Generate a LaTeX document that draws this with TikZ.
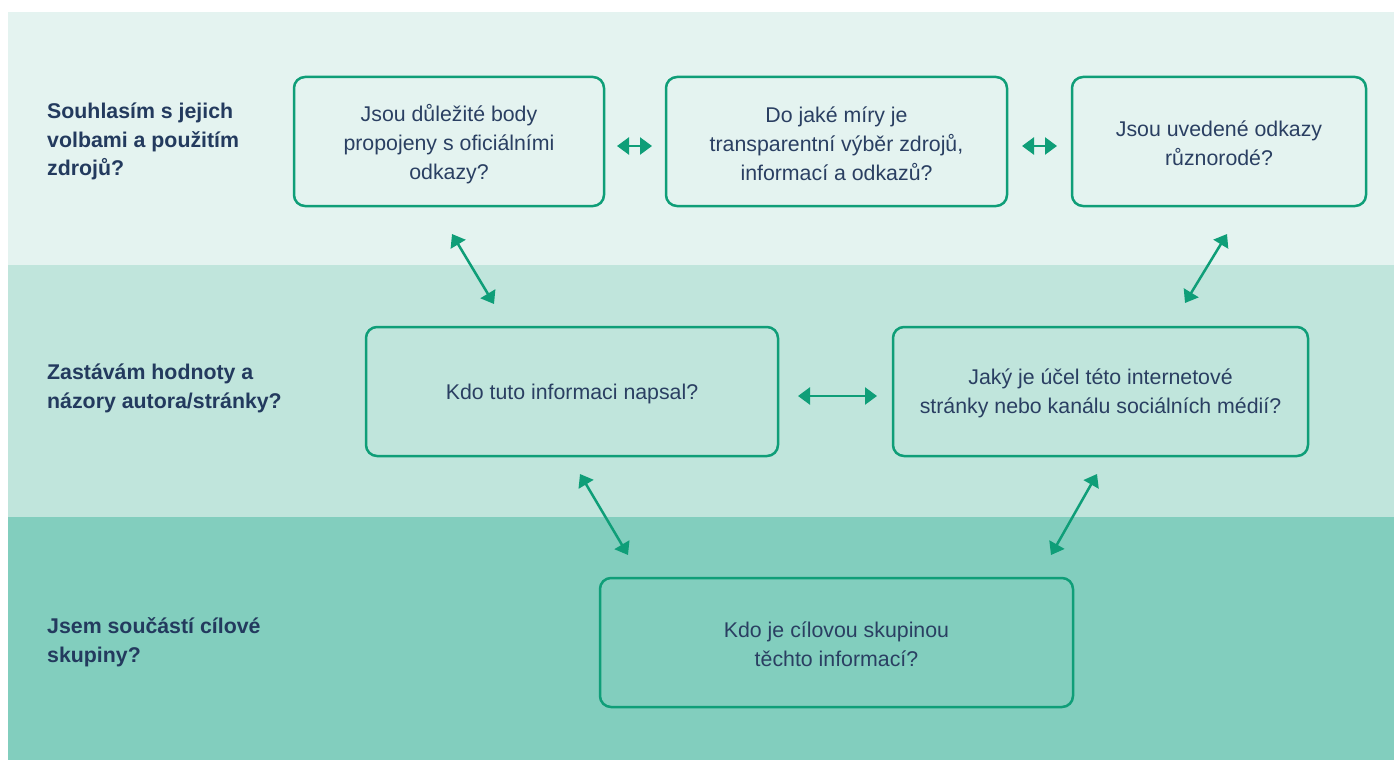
\documentclass[tikz,border=0pt]{standalone}
\usepackage{fontspec}
\setmainfont{Liberation Sans}
\usetikzlibrary{arrows.meta}
\definecolor{bandA}{HTML}{E4F3F0}
\definecolor{bandB}{HTML}{C0E5DC}
\definecolor{bandC}{HTML}{82CEBE}
\definecolor{grn}{HTML}{0F9E78}
\definecolor{navy}{HTML}{2A3F62}
\definecolor{navyb}{HTML}{233A5E}
\tikzset{
  qbox/.style={draw=grn, line width=2.5bp, rounded corners=11bp, inner sep=0pt, minimum height=129bp},
  qtext/.style={align=center, text=navy, font=\fontsize{21.4}{29}\selectfont, inner sep=0pt},
  lbl/.style={anchor=west, align=left, text=navyb, font=\bfseries\fontsize{21.4}{29}\selectfont, inner sep=0pt},
  link/.style={draw=grn, line width=2.5bp, {Triangle[length=12bp,width=17bp]}-{Triangle[length=12bp,width=17bp]}}
}
\begin{document}
\begin{tikzpicture}[x=1bp,y=-1bp]
\useasboundingbox (0,0) rectangle (1394,760);
\fill[white] (0,0) rectangle (1394,760);
\fill[bandA] (8,12) rectangle (1394,265);
\fill[bandB] (8,265) rectangle (1394,517);
\fill[bandC] (8,517) rectangle (1394,760);

\node[lbl] (lA) at (47,141.5) {Souhlasím s jejich\\volbami a použitím\\zdrojů?};
\node[lbl] (lB) at (47,388.5) {Zastávám hodnoty a\\názory autora/stránky?};
\node[lbl] (lC) at (47,642.5) {Jsem součástí cílové\\skupiny?};

\node[qbox, minimum width=310bp] (A) at (449,141.5) {};
\node[qbox, minimum width=341bp] (B) at (836.5,141.5) {};
\node[qbox, minimum width=294bp] (C) at (1219,141.5) {};
\node[qbox, minimum width=412bp] (D) at (572,391.5) {};
\node[qbox, minimum width=415bp] (E) at (1100.5,391.5) {};
\node[qbox, minimum width=473bp] (F) at (836.5,642.5) {};

\node[qtext] (At) at ([yshift=-2.5bp]A.center) {Jsou důležité body\\propojeny s oficiálními\\odkazy?};
\node[qtext] (Bt) at ([yshift=-2.5bp]B.center) {Do jaké míry je\\transparentní výběr zdrojů,\\informací a odkazů?};
\node[qtext] (Ct) at ([yshift=-2bp]C.center) {Jsou uvedené odkazy\\různorodé?};
\node[qtext] (Dt) at ([yshift=-2bp]D.center) {Kdo tuto informaci napsal?};
\node[qtext] (Et) at ([yshift=-2bp]E.center) {Jaký je účel této internetové\\stránky nebo kanálu sociálních médií?};
\node[qtext] (Ft) at ([yshift=-2bp]F.center) {Kdo je cílovou skupinou\\těchto informací?};

\coordinate (ab1) at (617,146);
\coordinate (ab2) at (652,146);
\coordinate (bc1) at (1022,146);
\coordinate (bc2) at (1057,146);
\coordinate (de1) at (798,396);
\coordinate (de2) at (877,396);
\coordinate (ad1) at (452,234);
\coordinate (ad2) at (494,304);
\coordinate (ce1) at (1227,234);
\coordinate (ce2) at (1185,303);
\coordinate (df1) at (580,474);
\coordinate (df2) at (628,555);
\coordinate (ef1) at (1097,474);
\coordinate (ef2) at (1051,555);

\draw[link] (ab1) -- (ab2);
\draw[link] (bc1) -- (bc2);
\draw[link] (de1) -- (de2);
\draw[link] (ad1) -- (ad2);
\draw[link] (ce1) -- (ce2);
\draw[link] (df1) -- (df2);
\draw[link] (ef1) -- (ef2);
\end{tikzpicture}
\end{document}
